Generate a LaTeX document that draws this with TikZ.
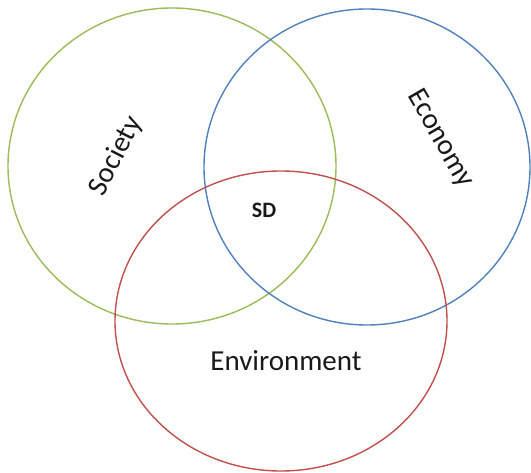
\documentclass[tikz,border=0pt]{standalone}
\usepackage{fontspec}
\setmainfont{Carlito}
\usepackage{xcolor}
\definecolor{socgreen}{HTML}{9BBB59}
\definecolor{ecoblue}{HTML}{4F81BD}
\definecolor{envred}{HTML}{C0504D}

\begin{document}
\begin{tikzpicture}[x=1pt,y=-1pt,
    ring/.style={line width=1.4pt},
    lbl/.style={font=\fontsize{29}{32}\selectfont,text=black!90}]
  \useasboundingbox (0,0) rectangle (531,473);
  % the three pillars
  \draw[ring,socgreen] (172,166) ellipse (164 and 158);
  \draw[ring,ecoblue]  (367,167) ellipse (163 and 158);
  \draw[ring,envred]   (281,321) ellipse (166 and 150);
  % labels
  \node[lbl,rotate=63]  (society) at (116,156) {Society};
  \node[lbl,rotate=-60] (economy) at (440,139) {Economy};
  \node[lbl]            (environment) at (286,361) {Environment};
  \node[font=\fontsize{22}{25}\selectfont\bfseries,text=black!90] (sd) at (264,210) {SD};
\end{tikzpicture}
\end{document}
